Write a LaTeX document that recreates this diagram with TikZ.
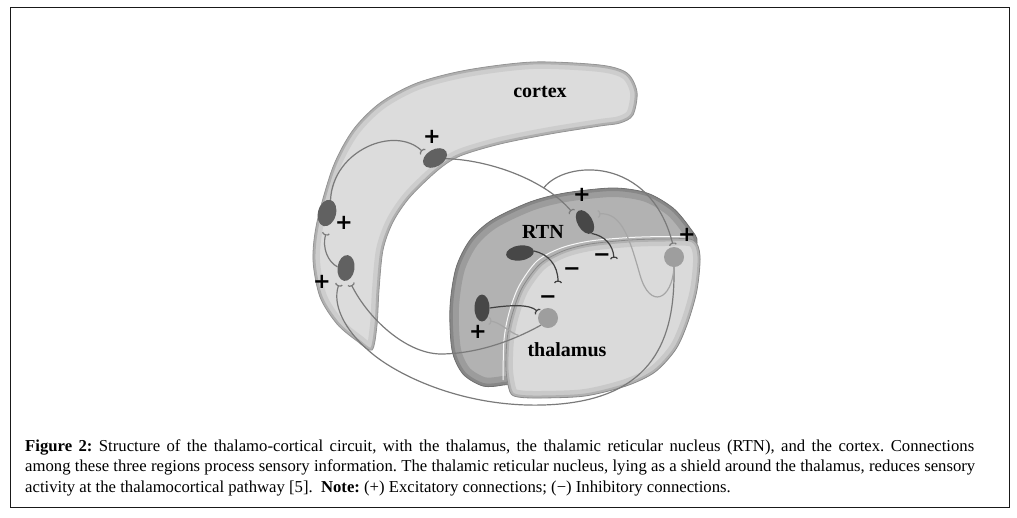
\documentclass[tikz,border=0pt]{standalone}
\usepackage{fontspec}
\setmainfont{Liberation Serif}
\newfontfamily\signfont{DejaVu Sans}
\usetikzlibrary{shapes.geometric, arrows.meta}
\frenchspacing

\definecolor{ctxfill}{HTML}{DCDCDC}
\definecolor{ctxrim}{HTML}{C4C4C4}
\definecolor{ctxedge}{HTML}{959595}
\definecolor{rtnfill}{HTML}{B2B2B2}
\definecolor{rtnrim}{HTML}{8E8E8E}
\definecolor{rtnedge}{HTML}{707070}
\definecolor{thlfill}{HTML}{DADADA}
\definecolor{thlrim}{HTML}{BEBEBE}
\definecolor{thledge}{HTML}{8A8A8A}

% outlines of the three regions
\def\cortexpts{(372,350) (357,341) (337,324) (320,297) (313,260) (317,222) (333,167) (353,130) (380,103) (417,83) (467,70) (533,62) (600,65) (627,73) (637,92) (633,115) (620,123) (600,126) (550,134) (500,144) (460,156) (438,170) (410,197) (393,222) (383,250) (379,290) (377,325)}
\def\rtnpts{(503,385) (483,386) (463,374) (452,350) (450,307) (456,268) (470,240) (492,220) (530,202) (565,193) (613,188) (647,193) (673,208) (690,228) (697,243) (680,270) (600,300) (540,340) (515,380)}
\def\thalpts{(510,392) (506,370) (507,340) (512,315) (522,288) (540,264) (563,251) (590,244) (630,240) (665,239) (693,240) (700,256) (697,290) (688,322) (676,349) (655,372) (626,386) (585,396) (541,398) (518,397)}

\begin{document}
\begin{tikzpicture}[x=1pt, y=-1pt,
    cneuron/.style={ellipse, inner sep=0pt, fill=black!62},
    rneuron/.style={ellipse, inner sep=0pt, fill=black!72},
    tneuron/.style={circle, inner sep=0pt, minimum size=20pt, fill=black!38},
    axon/.style={draw=black!52, line width=1.2pt},
    inhib/.style={draw=black!75, line width=1.2pt},
    fback/.style={draw=black!35, line width=1.2pt},
    syn/.style={-{Arc Barb[reversed, width=8pt, length=2.5pt]}},
    sign/.style={font=\signfont\bfseries\fontsize{21}{21}\selectfont, inner sep=0pt},
    region/.style={font=\bfseries\fontsize{20}{20}\selectfont},
    capt/.style={font=\fontsize{16.7}{19}\selectfont, inner sep=0pt, anchor=base west}]

\useasboundingbox (0,0) rectangle (1017,517);
\draw[line width=1.3pt, black!90] (10.5,7.5) rectangle (1009.5,507.5);

% cortex
\begin{scope}
  \clip plot[smooth cycle] coordinates {\cortexpts};
  \fill[ctxfill] plot[smooth cycle] coordinates {\cortexpts};
  \draw[ctxrim, line width=14pt, opacity=.6] plot[smooth cycle] coordinates {\cortexpts};
  \draw[ctxrim!80!black, line width=5pt, opacity=.6] plot[smooth cycle] coordinates {\cortexpts};
\end{scope}
\draw[ctxedge, line width=.8pt] plot[smooth cycle] coordinates {\cortexpts};

% RTN
\begin{scope}
  \clip plot[smooth cycle] coordinates {\rtnpts};
  \fill[rtnfill] plot[smooth cycle] coordinates {\rtnpts};
  \draw[rtnrim, line width=18pt, opacity=.6] plot[smooth cycle] coordinates {\rtnpts};
  \draw[rtnrim!85!black, line width=6pt, opacity=.6] plot[smooth cycle] coordinates {\rtnpts};
\end{scope}
\draw[rtnedge, line width=.8pt] plot[smooth cycle] coordinates {\rtnpts};

% thalamus
\begin{scope}
  \clip plot[smooth cycle] coordinates {\thalpts};
  \fill[thlfill] plot[smooth cycle] coordinates {\thalpts};
  \draw[thlrim, line width=14pt, opacity=.6] plot[smooth cycle] coordinates {\thalpts};
  \draw[thlrim!85!black, line width=5pt, opacity=.6] plot[smooth cycle] coordinates {\thalpts};
\end{scope}
\draw[white, line width=1pt, opacity=.9] plot[smooth] coordinates {(503,380) (504,340) (509,313) (519,286) (537,261) (561,248) (590,241) (630,237.5) (665,236.5) (688,237)};
\draw[thledge, line width=.8pt] plot[smooth cycle] coordinates {\thalpts};

% neurons
\node[cneuron, minimum width=26pt, minimum height=17pt, rotate=30] (N1) at (435,158) {};
\node[cneuron, minimum width=18pt, minimum height=27pt, rotate=-15] (N2) at (327,213) {};
\node[cneuron, minimum width=17pt, minimum height=26pt, rotate=-8] (N3) at (346,268) {};
\node[rneuron, minimum width=15pt, minimum height=26pt, rotate=30] (R1) at (585,222) {};
\node[rneuron, minimum width=28pt, minimum height=15pt, rotate=8] (R2) at (520,253) {};
\node[rneuron, minimum width=15pt, minimum height=27pt] (R3) at (482,308) {};
\node[tneuron] (T1) at (674,257) {};
\node[tneuron] (T2) at (548,318) {};

% synaptic ends
\coordinate (sN1) at (423,152);
\coordinate (sN2) at (326,233);
\coordinate (sN3a) at (339,284);
\coordinate (sN3b) at (351,284);
\coordinate (sR1a) at (572,212);
\coordinate (sR1b) at (598,214);
\coordinate (sR3) at (489,321);
\coordinate (sT1) at (673,245);
\coordinate (sT2) at (538,312);
\coordinate (sTh1) at (614,259);
\coordinate (sTh2) at (558,283);

% connections
\draw[axon, syn] (N2.north) .. controls (333,150) and (395,125) .. (sN1);
\draw[axon, syn] (N3.west) .. controls (328,262) and (322,248) .. (sN2);
\draw[axon, syn] (N1.south east) .. controls (490,160) and (545,180) .. (sR1a) coordinate[pos=.72] (jC);
\draw[axon, syn] (jC) .. controls (565,160) and (650,155) .. (sT1);
\draw[axon, syn] (T2.south west) .. controls (505,345) and (470,354) .. (440,354) coordinate[pos=.2] (jT2)
  .. controls (405,353) and (368,318) .. (sN3b);
\draw[axon, syn] (T1.south) .. controls (675,330) and (660,395) .. (560,404)
  .. controls (470,412) and (395,375) .. (368,350) .. controls (345,330) and (332,305) .. (sN3a);
\draw[fback, syn] (T1.south) .. controls (672,300) and (650,310) .. (640,275)
  .. controls (630,240) and (622,212) .. (sR1b);
\draw[fback, syn] (jT2) .. controls (510,333) and (500,322) .. (sR3);
\draw[inhib, syn] (R1.south) .. controls (605,236) and (613,245) .. (sTh1);
\draw[inhib, syn] (R2.east) .. controls (548,254) and (558,265) .. (sTh2);
\draw[inhib, syn] (R3.east) .. controls (510,305) and (530,304) .. (sT2);

% signs
\node[sign] (pN1) at (432,137) {+};
\node[sign] (pN2) at (344,223) {+};
\node[sign] (pN3) at (322,282) {+};
\node[sign] (pR1) at (582,195) {+};
\node[sign] (pT1) at (687,235) {+};
\node[sign] (pR3) at (478,332) {+};
\node[sign] (mTh1) at (602,258) {−};
\node[sign] (mTh2) at (572,272) {−};
\node[sign] (mT2) at (548,300) {−};

% labels
\node[region] (ctx) at (540,92) {cortex};
\node[region] (rtn) at (543,232) {RTN};
\node[region] (thl) at (567,350) {thalamus};

% caption
\node[capt] (cap1) at (25,451) {\makebox[949pt][s]{\textbf{Figure 2:} Structure of the thalamo-cortical circuit, with the thalamus, the thalamic reticular nucleus (RTN), and the cortex. Connections}};
\node[capt] (cap2) at (25,471.5) {\makebox[950pt][s]{among these three regions process sensory information. The thalamic reticular nucleus, lying as a shield around the thalamus, reduces sensory}};
\node[capt] (cap3) at (25,492) {activity at the thalamocortical pathway [5].\ \ \textbf{Note:} (+) Excitatory connections; (−) Inhibitory connections.};
\end{tikzpicture}
\end{document}
